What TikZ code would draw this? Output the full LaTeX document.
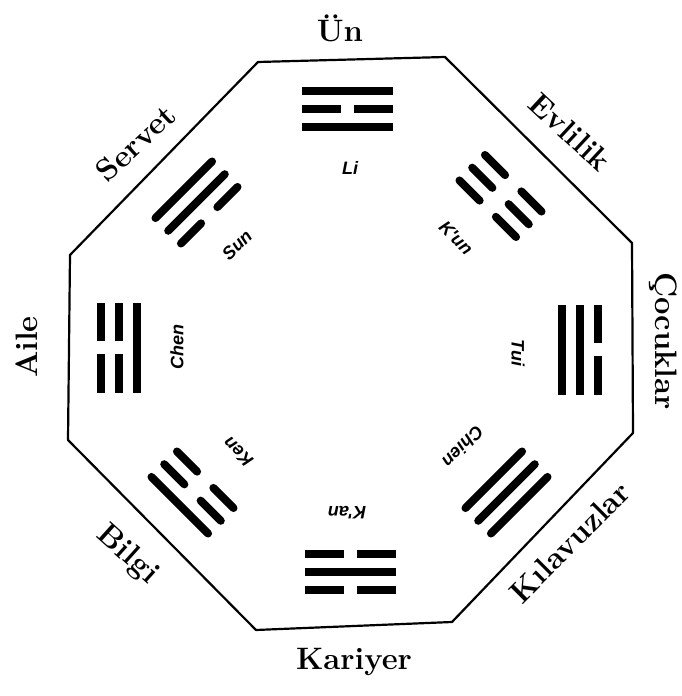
\documentclass[tikz,border=0pt]{standalone}
\usepackage{fontspec}
\newfontfamily\labfont{Liberation Sans}
\newcommand\tgline[2]{%
  \ifnum#2=1 \draw[tg] (-\tgL,#1) -- (\tgL,#1);
  \else \draw[tg] (-\tgL,#1) -- (-\tgG,#1) (\tgG,#1) -- (\tgL,#1);\fi}
\newcommand\trigram[9]{%
  \begin{scope}[shift={(#1,#2)},rotate=#3,tg/.style={line width=8pt,line cap=#9}]
    \def\tgL{#7}\def\tgG{#8}%
    \tgline{18}{#4}\tgline{0}{#5}\tgline{-18}{#6}
  \end{scope}}
\begin{document}
\begin{tikzpicture}[x=1pt,y=1pt,
  outer/.style={font=\bfseries\fontsize{31}{31}\selectfont,inner sep=0pt},
  tname/.style={font=\labfont\bfseries\itshape\fontsize{18}{18}\selectfont,inner sep=0pt}]
\useasboundingbox (0,0) rectangle (681,696);
% octagon
\coordinate (v1) at (258,634);
\coordinate (v2) at (445,639);
\coordinate (v3) at (632,453);
\coordinate (v4) at (633,263);
\coordinate (v5) at (452,74);
\coordinate (v6) at (256,66);
\coordinate (v7) at (68,256);
\coordinate (v8) at (70,441);
\draw[line width=2.2pt,line join=round] (v1) -- (v2) -- (v3) -- (v4) -- (v5) -- (v6) -- (v7) -- (v8) -- cycle;
% trigrams
\trigram{347.5}{587}{0}{1}{0}{1}{45.5}{6.5}{butt}
\trigram{350.5}{124}{180}{0}{1}{0}{45.5}{6.5}{butt}
\trigram{580}{346}{-90}{0}{1}{1}{45}{6.5}{butt}
\trigram{119}{348}{90}{0}{0}{1}{45}{6.5}{butt}
\trigram{196.5}{493.5}{45}{1}{1}{0}{40}{11.5}{round}
\trigram{500.5}{500}{-45}{0}{0}{0}{40}{11.5}{round}
\trigram{192.5}{203.5}{135}{1}{0}{0}{40}{11.5}{round}
\trigram{506.5}{203.5}{-135}{1}{1}{1}{40}{11.5}{round}
% trigram names
\node[tname] (li) at (350,528) {Li};
\node[tname,rotate=180] (kan) at (347,183) {K'an};
\node[tname,rotate=-90] (tui) at (518,343) {Tui};
\node[tname,rotate=90] (chen) at (177,349) {Chen};
\node[tname,rotate=45] (sun) at (237,451) {Sun};
\node[tname,rotate=-45] (kun) at (456,458) {K'un};
\node[tname,rotate=135] (ken) at (238,244) {Ken};
\node[tname,rotate=-135] (chien) at (463,249) {Chien};
% outer labels
\node[outer] (un) at (340,668) {Ün};
\node[outer,rotate=-43] (evlilik) at (570,564) {Evlilik};
\node[outer,rotate=-90] (cocuklar) at (663,355) {Çocuklar};
\node[outer,rotate=45] (kilavuzlar) at (570,154) {Kılavuzlar};
\node[outer] (kariyer) at (354,34) {Kariyer};
\node[outer,rotate=-42] (bilgi) at (127,141) {Bilgi};
\node[outer,rotate=90] (aile) at (27,349) {Aile};
\node[outer,rotate=43] (servet) at (136,553) {Servet};
\end{tikzpicture}
\end{document}
